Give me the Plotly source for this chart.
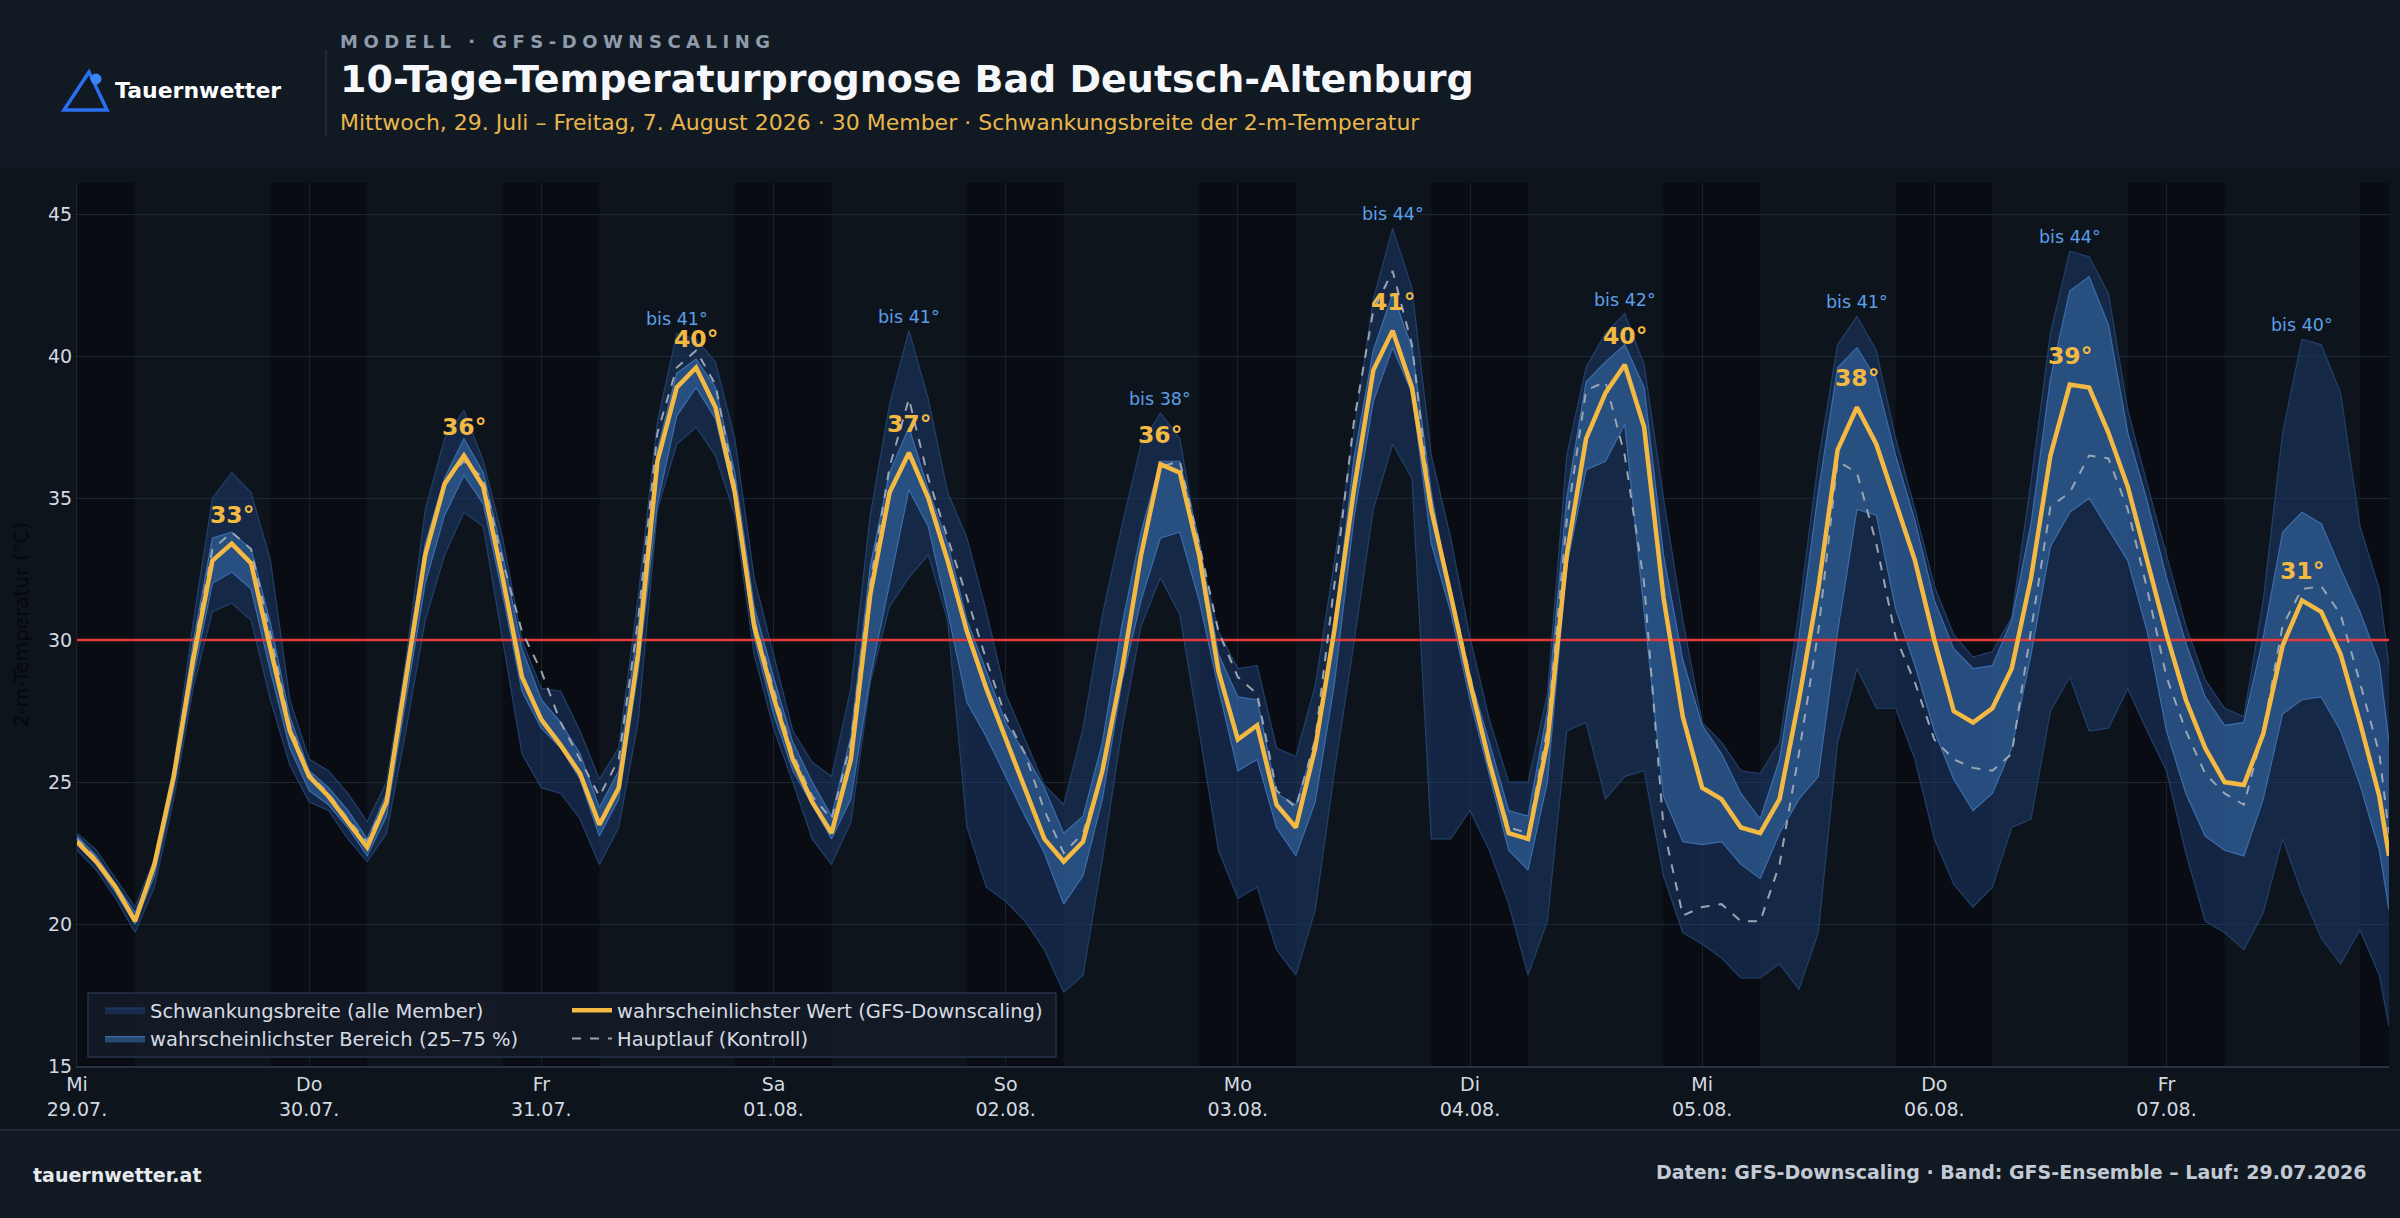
import numpy as np
import pandas as pd
import plotly.graph_objects as go

# ---------------- data ----------------
START = "2026-07-29 00:00"
HOURS = list(range(0, 240, 2)) + [239]

MEAN = [22.9, 22.2, 21.3, 20.1, 22.1, 25.2, 29.3, 32.8, 33.4, 32.7, 29.7, 26.8,
        25.2, 24.5, 23.6, 22.7, 24.3, 28.7, 33.0, 35.5, 36.5, 35.4, 32.2, 28.7,
        27.2, 26.3, 25.3, 23.5, 24.8, 29.5, 36.3, 38.9, 39.6, 38.2, 35.2, 30.5,
        28.0, 25.8, 24.3, 23.2, 25.8, 31.6, 35.2, 36.6, 35.0, 32.8, 30.3, 28.3,
        26.5, 24.7, 23.0, 22.2, 22.9, 25.4, 28.9, 33.0, 36.2, 35.9, 33.0, 28.9,
        26.5, 27.0, 24.2, 23.4, 26.2, 30.4, 35.3, 39.5, 40.9, 38.9, 34.6, 31.6,
        28.5, 25.7, 23.2, 23.0, 26.4, 33.0, 37.1, 38.7, 39.7, 37.5, 31.5, 27.3,
        24.8, 24.4, 23.4, 23.2, 24.4, 27.9, 31.8, 36.7, 38.2, 36.9, 34.9, 32.8,
        30.0, 27.5, 27.1, 27.6, 29.0, 32.2, 36.5, 39.0, 38.9, 37.3, 35.4, 32.8,
        30.2, 27.9, 26.2, 25.0, 24.9, 26.7, 29.8, 31.4, 31.0, 29.5, 27.1, 24.5,
        22.4]

MAX = [23.2, 22.6, 21.6, 20.6, 22.3, 25.6, 30.6, 35.0, 35.9, 35.2, 32.8, 27.9,
       25.8, 25.4, 24.6, 23.6, 25.0, 29.3, 34.6, 37.1, 38.1, 36.3, 33.6, 30.0,
       28.3, 28.2, 26.8, 25.1, 26.2, 31.5, 37.7, 40.8, 40.6, 39.8, 37.1, 32.2,
       29.5, 26.8, 25.7, 25.2, 28.3, 34.4, 38.3, 40.9, 38.5, 35.2, 33.6, 31.0,
       28.1, 26.5, 24.9, 24.2, 26.9, 30.9, 34.0, 36.9, 38.0, 37.1, 33.2, 30.3,
       29.0, 29.1, 26.2, 25.9, 28.4, 32.8, 37.3, 42.0, 44.5, 42.4, 36.5, 33.6,
       30.1, 27.2, 25.0, 25.0, 28.1, 36.5, 39.6, 40.8, 41.5, 39.7, 35.0, 30.7,
       27.1, 26.4, 25.4, 25.3, 26.4, 31.0, 36.3, 40.4, 41.4, 40.2, 37.1, 34.6,
       31.9, 30.2, 29.4, 29.6, 30.8, 35.6, 40.8, 43.7, 43.5, 42.2, 38.1, 35.5,
       33.0, 30.5, 28.6, 27.6, 27.3, 31.4, 37.3, 40.6, 40.4, 38.7, 34.0, 31.8,
       29.1]

P75 = [23.1, 22.4, 21.4, 20.4, 22.1, 25.4, 29.9, 33.6, 33.8, 33.2, 30.6, 27.3,
       25.4, 24.8, 24.0, 23.0, 24.6, 29.1, 33.4, 35.7, 37.1, 35.9, 33.0, 29.7,
       27.9, 27.1, 26.0, 24.1, 25.4, 30.5, 36.7, 39.4, 39.9, 38.9, 35.9, 31.2,
       28.7, 26.4, 25.0, 23.8, 26.6, 32.6, 35.9, 37.5, 35.3, 33.4, 30.7, 28.9,
       27.1, 26.0, 24.8, 23.2, 23.8, 26.4, 30.5, 33.8, 36.3, 36.3, 33.5, 29.5,
       28.0, 27.9, 24.6, 24.2, 26.4, 30.5, 36.4, 40.2, 42.2, 40.3, 35.2, 31.4,
       28.7, 26.4, 24.0, 23.8, 27.5, 35.0, 39.1, 39.8, 40.4, 38.9, 33.0, 29.3,
       27.0, 26.0, 24.6, 23.7, 25.8, 30.1, 35.2, 39.6, 40.3, 39.2, 36.5, 34.2,
       31.4, 29.7, 29.0, 29.1, 30.7, 34.1, 39.2, 42.3, 42.8, 41.1, 37.3, 34.9,
       32.2, 29.9, 28.0, 27.0, 27.1, 30.1, 33.8, 34.5, 34.1, 32.5, 31.0, 29.2,
       26.4]

P25 = [22.8, 22.1, 21.1, 20.0, 21.7, 24.8, 28.7, 32.0, 32.4, 31.8, 28.9, 26.2,
       24.7, 24.2, 23.4, 22.4, 23.8, 27.9, 32.0, 34.4, 35.8, 34.8, 31.6, 28.2,
       26.9, 26.2, 25.1, 23.1, 24.4, 28.9, 34.8, 37.9, 38.9, 37.8, 35.0, 30.1,
       27.4, 25.4, 24.2, 23.0, 24.4, 28.7, 32.0, 35.3, 34.0, 31.0, 27.8, 26.6,
       25.2, 23.8, 22.5, 20.7, 21.7, 24.4, 28.5, 31.4, 33.6, 33.8, 31.4, 28.3,
       25.4, 25.8, 23.4, 22.4, 24.3, 28.5, 34.3, 38.4, 40.3, 38.7, 33.4, 31.0,
       27.9, 25.2, 22.6, 21.9, 25.0, 32.6, 36.0, 36.3, 37.6, 31.0, 24.5, 22.9,
       22.8, 22.9, 22.1, 21.6, 23.2, 24.4, 25.2, 30.3, 34.6, 34.4, 31.1, 29.1,
       26.8, 25.1, 24.0, 24.6, 26.2, 29.5, 33.3, 34.5, 35.0, 33.9, 32.8, 30.3,
       26.8, 24.6, 23.1, 22.6, 22.4, 24.4, 27.4, 27.9, 28.0, 26.8, 24.9, 22.6,
       20.5]

MIN = [22.6, 21.9, 20.9, 19.7, 21.3, 24.4, 28.3, 31.0, 31.3, 30.7, 27.9, 25.6,
       24.3, 24.0, 23.0, 22.2, 23.2, 26.8, 30.7, 33.0, 34.5, 34.0, 30.0, 26.0,
       24.8, 24.6, 23.7, 22.1, 23.4, 27.1, 34.6, 36.9, 37.5, 36.5, 34.4, 29.5,
       26.9, 25.0, 23.0, 22.1, 23.6, 28.5, 31.2, 32.2, 33.0, 30.7, 23.4, 21.3,
       20.8, 20.1, 19.1, 17.6, 18.2, 22.3, 26.8, 30.5, 32.2, 30.9, 26.8, 22.6,
       20.9, 21.3, 19.1, 18.2, 20.5, 25.4, 29.9, 34.6, 36.9, 35.7, 23.0, 23.0,
       24.0, 22.6, 20.7, 18.2, 20.1, 26.8, 27.1, 24.4, 25.2, 25.4, 21.7, 19.7,
       19.3, 18.8, 18.1, 18.1, 18.6, 17.7, 19.7, 26.4, 29.0, 27.6, 27.6, 25.8,
       23.0, 21.4, 20.6, 21.3, 23.4, 23.7, 27.5, 28.7, 26.8, 26.9, 28.3, 26.8,
       25.4, 22.5, 20.1, 19.7, 19.1, 20.4, 23.0, 21.1, 19.5, 18.6, 19.8, 18.2,
       16.4]

CONTROL = [23.0, 22.3, 21.3, 20.2, 22.0, 25.3, 29.6, 33.2, 33.8, 33.2, 30.2, 27.0,
           25.3, 24.6, 23.7, 22.9, 24.4, 28.8, 33.0, 35.6, 36.3, 35.7, 32.8, 30.3,
           28.9, 27.1, 25.8, 24.5, 25.8, 30.7, 37.3, 39.6, 40.2, 39.0, 35.5, 30.7,
           28.3, 26.0, 24.5, 23.7, 26.4, 32.0, 36.1, 38.5, 35.7, 33.6, 31.5, 29.3,
           27.3, 26.0, 24.0, 22.5, 23.2, 25.4, 28.9, 33.0, 36.1, 36.3, 33.4, 30.3,
           28.7, 28.1, 24.7, 24.1, 26.5, 32.0, 37.7, 41.6, 43.0, 40.4, 34.6, 31.7,
           28.7, 25.8, 23.4, 23.2, 26.9, 34.2, 38.8, 39.1, 36.5, 32.0, 23.4, 20.3,
           20.6, 20.7, 20.1, 20.1, 22.1, 26.0, 30.3, 36.3, 35.9, 33.4, 30.1, 28.5,
           26.5, 25.8, 25.5, 25.4, 26.0, 30.4, 34.7, 35.2, 36.5, 36.4, 34.6, 31.8,
           28.7, 26.8, 25.3, 24.6, 24.2, 26.8, 30.5, 31.8, 31.9, 30.9, 28.5, 26.0,
           23.2]

THRESHOLD = 30
WEEKDAYS = ["Mo", "Di", "Mi", "Do", "Fr", "Sa", "So"]
N_DAYS = 10
PEAK_LABELS = ["33°", "36°", "40°", "37°", "36°", "41°", "40°", "38°", "39°", "31°"]
BIS_LABELS = ["", "", "bis 41°", "bis 41°", "bis 38°", "bis 44°", "bis 42°",
              "bis 41°", "bis 44°", "bis 40°"]
Y_TICKS = [15, 20, 25, 30, 35, 40, 45]

# ---------------- styling ----------------
FONT = "DejaVu Sans"
W, H = 2400, 1218
PLOT_L, PLOT_R, PLOT_T, PLOT_B = 77, 2389, 183, 1066

PAPER_BG = "#0e141c"
PLOT_BG = "#0e141c"
HEADER_BG = "#111923"
GOLD = "#f4b942"
BLUE_TXT = "#5b9fe8"


def fx(p):
    return (p - PLOT_L) / (PLOT_R - PLOT_L)


def fy(p):
    return (PLOT_B - p) / (PLOT_B - PLOT_T)


t0 = pd.Timestamp(START)
x = [t0 + pd.Timedelta(hours=h) for h in HOURS]
hrs = np.array(HOURS)
mean_a = np.array(MEAN)
max_a = np.array(MAX)

fig = go.Figure()

# outer band (min - max)
fig.add_trace(go.Scatter(x=x, y=MIN, mode="lines", line=dict(color="#22406b", width=1.2),
                         showlegend=False, hoverinfo="skip"))
fig.add_trace(go.Scatter(x=x, y=MAX, mode="lines", fill="tonexty",
                         fillcolor="rgba(28,58,105,0.55)",
                         line=dict(color="#22406b", width=1.2),
                         name="Schwankungsbreite (alle Member)", legend="legend",
                         legendrank=1))
# inner band (25-75 %)
fig.add_trace(go.Scatter(x=x, y=P25, mode="lines", line=dict(color="#3d6cab", width=1.2),
                         showlegend=False, hoverinfo="skip"))
fig.add_trace(go.Scatter(x=x, y=P75, mode="lines", fill="tonexty",
                         fillcolor="rgba(52,105,165,0.6)",
                         line=dict(color="#3d6cab", width=1.2),
                         name="wahrscheinlichster Bereich (25–75 %)", legend="legend",
                         legendrank=2))
# threshold
fig.add_trace(go.Scatter(x=[x[0], x[-1]], y=[THRESHOLD, THRESHOLD], mode="lines",
                         line=dict(color="#e53a3a", width=2.5), showlegend=False,
                         hoverinfo="skip"))
# control run
fig.add_trace(go.Scatter(x=x, y=CONTROL, mode="lines",
                         line=dict(color="#9aa5b3", width=2, dash="dash"),
                         name="Hauptlauf (Kontroll)", legend="legend2", legendrank=2))
# mean
fig.add_trace(go.Scatter(x=x, y=MEAN, mode="lines",
                         line=dict(color=GOLD, width=4.5),
                         name="wahrscheinlichster Wert (GFS-Downscaling)", legend="legend2",
                         legendrank=1))

shapes = []
annotations = []

# night shading 20:00 - 06:00
for d in range(-1, N_DAYS):
    a = t0 + pd.Timedelta(days=d, hours=20)
    b = t0 + pd.Timedelta(days=d + 1, hours=6)
    a = max(a, x[0])
    b = min(b, x[-1])
    shapes.append(dict(type="rect", xref="x", yref="paper", x0=a, x1=b, y0=0, y1=1,
                       fillcolor="rgba(0,0,0,0.30)", line=dict(width=0), layer="below"))

# peak labels
for d in range(N_DAYS):
    m = (hrs >= 24 * d) & (hrs < 24 * (d + 1))
    idx = np.where(m)[0]
    i_mean = idx[np.argmax(mean_a[idx])]
    annotations.append(dict(x=x[i_mean], y=float(mean_a[i_mean]), xref="x", yref="y",
                            text=f"<b>{PEAK_LABELS[d]}</b>", showarrow=False,
                            yshift=29, yanchor="middle",
                            font=dict(family=FONT, size=23.5, color=GOLD)))
    if BIS_LABELS[d]:
        i_max = idx[np.argmax(max_a[idx])]
        annotations.append(dict(x=x[i_max], y=float(max_a[i_max]), xref="x", yref="y",
                                text=BIS_LABELS[d], showarrow=False,
                                yshift=14, yanchor="middle",
                                font=dict(family=FONT, size=17.5, color=BLUE_TXT)))

# header & footer panels
shapes.append(dict(type="rect", xref="paper", yref="paper", x0=fx(-5), x1=fx(2405),
                   y0=fy(168), y1=fy(-5), fillcolor=HEADER_BG, line=dict(width=0),
                   layer="below"))
shapes.append(dict(type="rect", xref="paper", yref="paper", x0=fx(-5), x1=fx(2405),
                   y0=fy(1225), y1=fy(1130), fillcolor=HEADER_BG,
                   line=dict(width=0), layer="below"))
shapes.append(dict(type="line", xref="paper", yref="paper", x0=fx(0), x1=fx(2400),
                   y0=fy(1130), y1=fy(1130), line=dict(color="#1f2a37", width=2)))
shapes.append(dict(type="line", xref="paper", yref="paper", x0=fx(326), x1=fx(326),
                   y0=fy(50), y1=fy(136), line=dict(color="#263140", width=1.5)))
# logo
shapes.append(dict(type="path", xref="paper", yref="paper",
                   path=f"M {fx(89)},{fy(72)} L {fx(64)},{fy(110)} L {fx(107)},{fy(110)} Z",
                   line=dict(color="#2a6ff0", width=3.5), fillcolor="rgba(0,0,0,0)"))
shapes.append(dict(type="circle", xref="paper", yref="paper",
                   x0=fx(91), x1=fx(101), y0=fy(84), y1=fy(74),
                   fillcolor="#3b86f7", line=dict(color="#3b86f7", width=1)))
# legend box
shapes.append(dict(type="rect", xref="paper", yref="paper", x0=fx(88), x1=fx(1056),
                   y0=fy(1057), y1=fy(993), fillcolor="rgba(19,27,39,0.93)",
                   line=dict(color="#26324a", width=1.5), layer="above"))

annotations += [
    dict(x=fx(113), y=fy(90), xref="paper", yref="paper", xanchor="left", yanchor="middle",
         text="<b>Tauernwetter</b>", showarrow=False,
         font=dict(family=FONT, size=22, color="#ffffff")),
    dict(x=fx(338), y=fy(42), xref="paper", yref="paper", xanchor="left", yanchor="middle",
         text="<b><span style='letter-spacing:5.5px'>MODELL · GFS-DOWNSCALING</span></b>",
         showarrow=False, font=dict(family=FONT, size=18, color="#8f9bab")),
    dict(x=fx(338), y=fy(79), xref="paper", yref="paper", xanchor="left", yanchor="middle",
         text="<b>10-Tage-Temperaturprognose Bad Deutsch-Altenburg</b>", showarrow=False,
         font=dict(family=FONT, size=38, color="#f5f7fa")),
    dict(x=fx(338), y=fy(123), xref="paper", yref="paper", xanchor="left", yanchor="middle",
         text="Mittwoch, 29. Juli – Freitag, 7. August 2026 · 30 Member · "
              "Schwankungsbreite der 2-m-Temperatur",
         showarrow=False, font=dict(family=FONT, size=22, color="#e8b64c")),
    dict(x=fx(31), y=fy(1175), xref="paper", yref="paper", xanchor="left", yanchor="middle",
         text="<b>tauernwetter.at</b>", showarrow=False,
         font=dict(family=FONT, size=19, color="#e6e9ee")),
    dict(x=fx(2369), y=fy(1172), xref="paper", yref="paper", xanchor="right", yanchor="middle",
         text="<b>Daten: GFS-Downscaling · Band: GFS-Ensemble – Lauf: 29.07.2026</b>",
         showarrow=False, font=dict(family=FONT, size=19, color="#c3cad4")),
]

tickvals = [t0 + pd.Timedelta(days=d) for d in range(N_DAYS)]
ticktext = [f"{WEEKDAYS[t.weekday()]}<br>{t.strftime('%d.%m.')}" for t in tickvals]

legend_common = dict(bgcolor="rgba(0,0,0,0)", borderwidth=0, xanchor="left", yanchor="top",
                     font=dict(family=FONT, size=19.5, color="#d6dbe2"),
                     orientation="v", tracegroupgap=2, itemwidth=40, traceorder="normal")

fig.update_layout(
    width=W, height=H,
    margin=dict(l=PLOT_L, r=W - PLOT_R, t=PLOT_T, b=H - PLOT_B),
    paper_bgcolor=PAPER_BG, plot_bgcolor=PLOT_BG,
    font=dict(family=FONT, color="#d4d9e0"),
    showlegend=True,
    legend=dict(x=fx(100), y=fy(991), **legend_common),
    legend2=dict(x=fx(567), y=fy(991), **legend_common),
    shapes=shapes, annotations=annotations,
    xaxis=dict(type="date", range=[x[0], x[-1]], tickvals=tickvals, ticktext=ticktext,
               showgrid=True, gridcolor="#18222e", gridwidth=1, zeroline=False,
               showline=True, linecolor="#273342", linewidth=2, ticks="",
               tickfont=dict(family=FONT, size=19, color="#d4d9e0")),
    yaxis=dict(range=[15, 46.1], tickvals=Y_TICKS, showgrid=True, gridcolor="#1c2836",
               gridwidth=1, zeroline=False, showline=True, linecolor="#1d2734", linewidth=1,
               ticks="", tickfont=dict(family=FONT, size=19, color="#d4d9e0"),
               title=dict(text="2-m-Temperatur (°C)", standoff=14,
                          font=dict(family=FONT, size=20, color="#05080c"))),
)

fig.write_html("out.html")
